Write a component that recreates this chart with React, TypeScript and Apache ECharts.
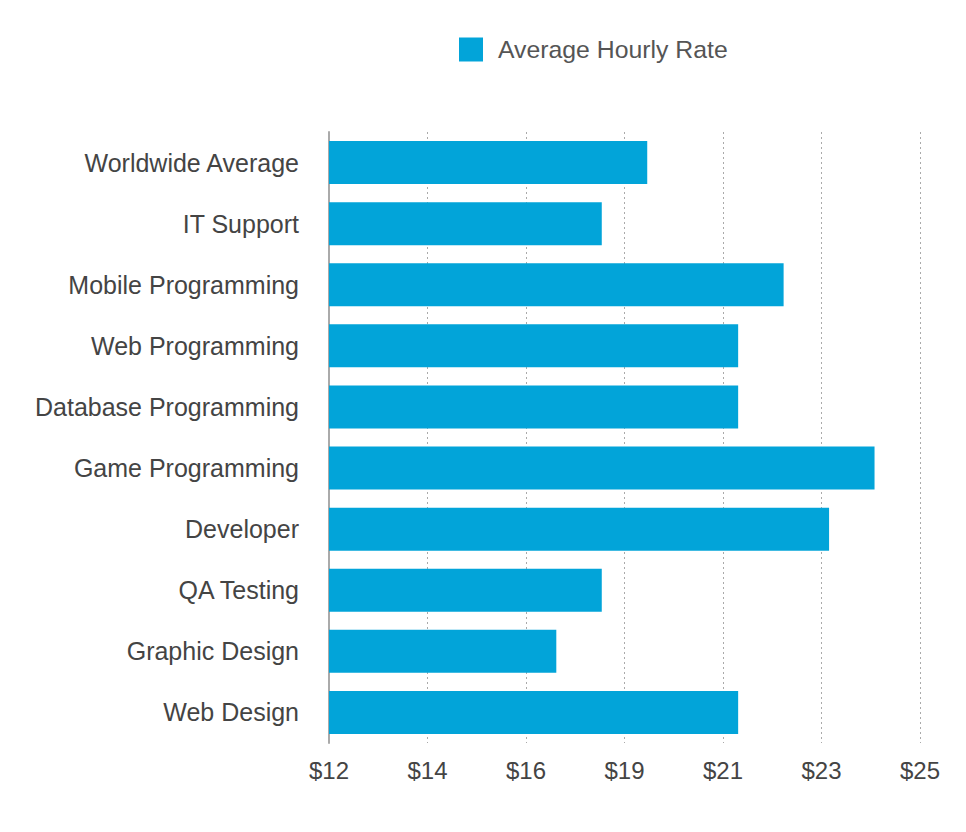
import React, { useEffect, useRef } from "react";
import * as echarts from "echarts";

const categories = [
  "Worldwide Average",
  "IT Support",
  "Mobile Programming",
  "Web Programming",
  "Database Programming",
  "Game Programming",
  "Developer",
  "QA Testing",
  "Graphic Design",
  "Web Design",
];
const rates = [19, 18, 22, 21, 21, 24, 23, 18, 17, 21];
const seriesName = "Average Hourly Rate";
const axisMin = 12;
const axisMax = 25;

export default function App() {
  const ref = useRef<HTMLDivElement>(null);
  useEffect(() => {
    if (!ref.current) return;
    const chart = echarts.init(ref.current, undefined, { renderer: "svg" });
    const font = "'Liberation Sans', Arial, sans-serif";
    chart.setOption({
      animation: false,
      legend: {
        data: [seriesName],
        left: 446,
        top: 24,
        itemWidth: 24,
        itemHeight: 24,
        icon: "rect",
        textStyle: {
          fontSize: 24.8,
          color: "#555",
          fontFamily: font,
          padding: [0, 0, 0, 10],
        },
      },
      grid: { left: 321, right: 54, top: 124, bottom: 97, containLabel: false },
      xAxis: {
        type: "value",
        min: axisMin,
        max: axisMax,
        interval: (axisMax - axisMin) / 6,
        axisLine: { show: false },
        axisTick: { show: false },
        splitLine: {
          show: true,
          lineStyle: { color: "#aaa", type: [2, 3], width: 1 },
        },
        axisLabel: {
          fontSize: 24,
          color: "#444",
          fontFamily: font,
          margin: 15,
          formatter: (v: number) => "$" + Math.round(v + 1e-6),
        },
      },
      yAxis: {
        type: "category",
        data: categories,
        inverse: true,
        axisTick: { show: false },
        axisLine: { show: true, lineStyle: { color: "#aaa", width: 2 } },
        axisLabel: {
          fontSize: 25,
          color: "#444",
          fontFamily: font,
          margin: 30,
        },
      },
      series: [
        {
          name: seriesName,
          type: "bar",
          data: rates,
          barWidth: 43,
          itemStyle: { color: "#02a4d9" },
        },
      ],
    });
    return () => chart.dispose();
  }, []);
  return <div ref={ref} style={{ width: 966, height: 832 }} />;
}
